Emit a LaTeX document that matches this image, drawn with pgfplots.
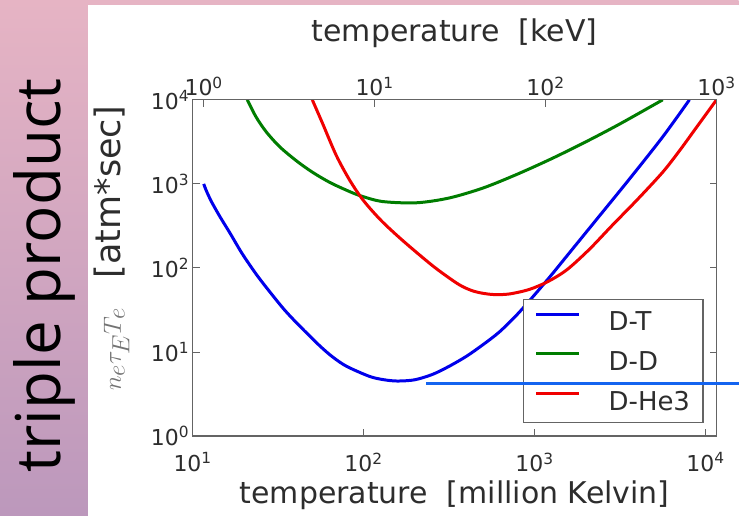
\documentclass[border=0pt]{standalone}
\usepackage{fontspec}
\setmainfont{DejaVu Sans}
\newfontfamily\tpfont{Open Sans}
\usepackage{pgfplots}
\pgfplotsset{compat=1.18}
\definecolor{dtblue}{RGB}{0,0,235}
\definecolor{ddgreen}{RGB}{0,125,0}
\definecolor{dhered}{RGB}{240,0,0}
\definecolor{bgtop}{RGB}{230,180,196}
\definecolor{bgbot}{RGB}{188,152,188}
\definecolor{annot}{RGB}{20,100,240}
\definecolor{axgray}{RGB}{100,100,100}
\definecolor{txt}{RGB}{45,45,45}
\begin{document}
\begin{tikzpicture}[x=1pt,y=1pt]
\shade[top color=bgtop, bottom color=bgbot] (0,0) rectangle (740,517);
\fill[white] (88,0) rectangle (740,512);
\node[rotate=90, anchor=base, font=\tpfont\fontsize{62}{74}\selectfont, text=black] at (61,241) {triple product};
\begin{axis}[
  at={(193pt,80pt)}, anchor=south west, scale only axis,
  width=525pt, height=337pt,
  xmode=log, ymode=log,
  xmin=10, xmax=11604.5, ymin=1, ymax=10000,
  xtick={10,100,1000,10000},
  xticklabels={10\textsuperscript{1},10\textsuperscript{2},10\textsuperscript{3},10\textsuperscript{4}},
  ytick={1,10,100,1000,10000},
  yticklabels={10\textsuperscript{0},10\textsuperscript{1},10\textsuperscript{2},10\textsuperscript{3},10\textsuperscript{4}},
  xminorticks=false, yminorticks=false,
  xtick pos=bottom, ytick pos=both, yticklabel pos=left,
  tick align=inside, major tick length=7pt,
  axis line style={draw=axgray, line width=1.3pt},
  every tick/.style={draw=axgray, line width=1pt},
  tick label style={font=\fontsize{22}{26}\selectfont, text=txt},
  xticklabel style={yshift=-13pt},
  xlabel={temperature\ \ [million Kelvin]},
  xlabel style={font=\fontsize{30}{36}\selectfont, text=txt, at={(axis description cs:0.5,0)}, anchor=base, yshift=-68pt},
  ylabel={{\color{black!55}$n_e\tau_E T_e$}\hspace{30pt}[atm*sec]},
  ylabel style={font=\fontsize{35}{42}\selectfont, text=txt, at={(axis description cs:-0.154,0.559)}, anchor=center},
  legend style={at={(rel axis cs:0.9752,0.0386)}, anchor=south east,
    draw=axgray, line width=1.2pt, fill=white,
    font=\fontsize{26}{31}\selectfont, text=txt,
    inner xsep=11pt, inner ysep=10pt, row sep=17pt, column sep=26pt,
    nodes={inner sep=2pt, text depth=0pt}},
  legend cell align=left,
  legend image code/.code={\draw[#1, line width=3pt] (0pt,7pt) -- (43pt,7pt);},
]
\addplot[dtblue, line width=3pt, smooth] coordinates {
(11.61,1000) (12.02,831.8) (12.88,616.6) (14.45,407.4) (16.60,257.0)
(19.50,147.9) (23.66,83.18) (28.18,52.48) (34.51,31.62) (42.27,20.42)
(55.34,11.89) (66.07,8.71) (79.62,6.76) (108.4,5.13) (131.8,4.68)
(158.1,4.52) (199.5,4.68) (253.5,5.43) (316.2,6.76) (399.9,8.91)
(501.2,12.30) (623.7,17.38) (794.3,28.18) (1000,47.86) (1259,83.18)
(1585,147.9) (2291,371.5) (3597,1148) (5623,3631) (8054,10000)
};
\addlegendentry{D-T}
\addplot[ddgreen, line width=3pt, smooth] coordinates {
(20.89,10000) (23.44,6310) (26.92,4169) (32.36,2754) (40.74,1862)
(50.12,1380) (63.1,1047) (79.43,841) (95.5,724) (128.8,617) (204.2,596)
(316.2,679) (501.2,895) (794.3,1306) (1259,1995) (1995,3162)
(3162,5176) (5623,10000)
};
\addlegendentry{D-D}
\addplot[dhered, line width=3pt, smooth] coordinates {
(50.12,10000) (57.54,5248) (69.18,2188) (83.18,1096) (100,631)
(125.9,371.5) (162.2,229.1) (213.8,141.3) (269.2,96.6) (363.1,63.1)
(446.7,52.48) (562.3,48.42) (707.9,48.98) (933.3,55.59) (1202,69.18)
(1549,95.5) (2089,166.0) (2858,323.6) (3981,645.7) (5623,1380)
(7079,2512) (8913,4786) (11600,10000)
};
\addlegendentry{D-He3}
\end{axis}
\begin{axis}[
  at={(193pt,80pt)}, anchor=south west, scale only axis,
  width=525pt, height=337pt,
  xmode=log, xmin=0.86173, xmax=1000, ymin=0, ymax=1,
  hide y axis,
  xtick={1,10,100,1000},
  xticklabels={10\textsuperscript{0},10\textsuperscript{1},10\textsuperscript{2},10\textsuperscript{3}},
  xminorticks=false,
  xtick pos=top, xticklabel pos=top,
  tick align=inside, major tick length=7pt,
  axis line style={draw=axgray, line width=1.3pt},
  every tick/.style={draw=axgray, line width=1pt},
  tick label style={font=\fontsize{22}{26}\selectfont, text=txt},
  xlabel={temperature\ \ [keV]},
  xlabel style={font=\fontsize{30}{36}\selectfont, text=txt, at={(axis description cs:0.5,1)}, anchor=base, yshift=58pt},
]
\end{axis}
\draw[annot, line width=3pt] (427,133) -- (740,133);
\end{tikzpicture}
\end{document}
